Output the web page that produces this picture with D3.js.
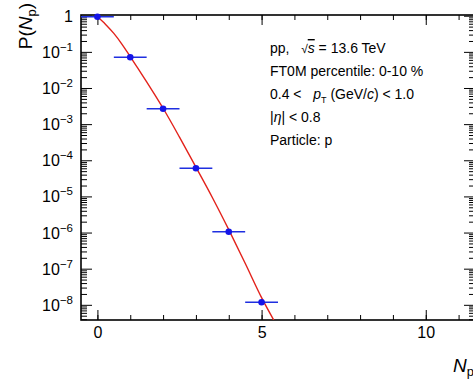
<!DOCTYPE html>
<html>
<head>
<meta charset="utf-8">
<script src="https://cdn.jsdelivr.net/npm/d3@7"></script>
<style>
  body { margin: 0; background: #fff; }
  svg { font-family: "Liberation Sans", Arial, sans-serif; }
</style>
</head>
<body>
<svg id="chart"></svg>
<script>
// data points (N_p, P(N_p))
const nValues = [0, 1, 2, 3, 4, 5];
const probValues = [0.94, 0.071, 2.67e-3, 6.0e-5, 1.05e-6, 1.18e-8];
const xErr = [0.5, 0.5, 0.5, 0.5, 0.5, 0.5];

// fit curve
const fitX = [0, 0.25, 0.5, 0.75, 1.0, 1.25, 1.5, 1.75, 2.0, 2.5, 3.0, 3.5, 4.0, 4.5, 5.0, 5.4];
const fitY = [0.933, 0.575, 0.324, 0.162, 0.0741, 0.0331, 0.0148, 6.46e-3, 2.75e-3,
  4.37e-4, 6.46e-5, 9.33e-6, 1.20e-6, 1.41e-7, 1.58e-8, 3.39e-9];

const xMajorTicks = [0, 5, 10];
const xMinorTicks = [0, 1, 2, 3, 4, 5, 6, 7, 8, 9, 10, 11];
const yDecades = [0, -1, -2, -3, -4, -5, -6, -7, -8];

// Set the size
let width = 473;
let height = 381;
let pLeft = 81, pTop = 15, pRight = 475, pBottom = 320;

let svg = d3.select("#chart").attr("width", width).attr("height", height);

let x = d3.scaleLinear().domain([-0.5, 11.5]).range([pLeft, pRight]);
let y = d3.scaleLog().domain([Math.pow(10, -8.42), Math.pow(10, 0.02)]).range([pBottom, pTop]);

// minor log ticks
let yMinor = [];
yDecades.forEach((e) => {
  for (let k = 2; k <= 9; k++) {
    let v = k * Math.pow(10, e - 1);
    if (v >= y.domain()[0]) yMinor.push(v);
  }
});
let yMajor = yDecades.map((e) => Math.pow(10, e));

// clip
svg.append("clipPath").attr("id", "clip")
  .append("rect").attr("x", pLeft).attr("y", pTop)
  .attr("width", pRight - pLeft).attr("height", pBottom - pTop);

// Axes
function styleAxis(g) {
  g.select(".domain").remove();
  g.selectAll(".tick line").attr("stroke", "#000").attr("stroke-width", 1);
}

svg.append("g").attr("transform", "translate(0," + pBottom + ")")
  .call(d3.axisBottom(x).tickValues(xMinorTicks).tickSize(-5).tickFormat(""))
  .call(styleAxis);
svg.append("g").attr("transform", "translate(0," + pBottom + ")")
  .call(d3.axisBottom(x).tickValues(xMajorTicks).tickSize(-10).tickPadding(6).tickFormat(d3.format("d")))
  .call(styleAxis)
  .call((g) => g.selectAll("text").attr("font-size", 16).attr("fill", "#000")
    .attr("font-family", "Liberation Sans, Arial, sans-serif").attr("dy", "0.75em"));

svg.append("g").attr("transform", "translate(0," + pTop + ")")
  .call(d3.axisTop(x).tickValues(xMinorTicks).tickSize(-5).tickFormat(""))
  .call(styleAxis);
svg.append("g").attr("transform", "translate(0," + pTop + ")")
  .call(d3.axisTop(x).tickValues(xMajorTicks).tickSize(-10).tickFormat(""))
  .call(styleAxis);

svg.append("g").attr("transform", "translate(" + pLeft + ",0)")
  .call(d3.axisLeft(y).tickValues(yMinor).tickSize(-6).tickFormat(""))
  .call(styleAxis);
svg.append("g").attr("transform", "translate(" + pLeft + ",0)")
  .call(d3.axisLeft(y).tickValues(yMajor).tickSize(-11).tickFormat(""))
  .call(styleAxis);

svg.append("g").attr("transform", "translate(" + pRight + ",0)")
  .call(d3.axisRight(y).tickValues(yMinor).tickSize(-6).tickFormat(""))
  .call(styleAxis);
svg.append("g").attr("transform", "translate(" + pRight + ",0)")
  .call(d3.axisRight(y).tickValues(yMajor).tickSize(-11).tickFormat(""))
  .call(styleAxis);

// y tick labels with superscripts
yDecades.forEach((e) => {
  let t = svg.append("text")
    .attr("x", pLeft - 8)
    .attr("y", y(Math.pow(10, e)) + 6)
    .attr("text-anchor", "end")
    .attr("font-size", 16)
    .attr("fill", "#000");
  if (e === 0) {
    t.text("1");
  } else {
    t.append("tspan").text("10");
    t.append("tspan").attr("font-size", 11.5).attr("dy", -7).text("\u2212" + (-e));
  }
});

// frame
svg.append("rect").attr("x", pLeft).attr("y", pTop)
  .attr("width", pRight - pLeft).attr("height", pBottom - pTop)
  .attr("fill", "none").attr("stroke", "#000").attr("stroke-width", 1.6);

// fit curve
let line = d3.line().x((d, i) => x(fitX[i])).y((d, i) => y(fitY[i])).curve(d3.curveMonotoneX);
svg.append("path").datum(fitX)
  .attr("clip-path", "url(#clip)")
  .attr("d", line)
  .attr("fill", "none").attr("stroke", "#e3221b").attr("stroke-width", 1.4);

// error bars
let pts = svg.append("g");
nValues.forEach((n, i) => {
  pts.append("line")
    .attr("x1", x(n - xErr[i])).attr("x2", x(n + xErr[i]))
    .attr("y1", y(probValues[i])).attr("y2", y(probValues[i]))
    .attr("stroke", "#1f2fe0").attr("stroke-width", 1.5);
  pts.append("circle")
    .attr("cx", x(n)).attr("cy", y(probValues[i])).attr("r", 3.3)
    .attr("fill", "#1515e8");
});

// axis titles
svg.append("text")
  .attr("transform", "translate(32,3) rotate(-90)")
  .attr("text-anchor", "end")
  .attr("font-size", 19)
  .attr("fill", "#000")
  .call((t) => {
    t.append("tspan").text("P(");
    t.append("tspan").attr("font-style", "italic").text("N");
    t.append("tspan").attr("font-size", 13).attr("dy", 4).text("p");
    t.append("tspan").attr("dy", -4).text(")");
  });

svg.append("text")
  .attr("x", 474).attr("y", 372)
  .attr("text-anchor", "end")
  .attr("font-size", 19)
  .attr("fill", "#000")
  .call((t) => {
    t.append("tspan").attr("font-style", "italic").text("N");
    t.append("tspan").attr("font-size", 13).attr("dy", 4).text("p");
  });

// legend text
let lx = 270, fs = 14;
let l1 = svg.append("text").attr("x", lx).attr("y", 53).attr("font-size", fs);
l1.append("tspan").text("pp,\u00A0\u00A0\u00A0");
l1.append("tspan").attr("font-size", 12).text("\u221A");
l1.append("tspan").attr("font-style", "italic").attr("text-decoration", "overline").text("s");
l1.append("tspan").text(" = 13.6 TeV");

svg.append("text").attr("x", lx).attr("y", 76).attr("font-size", fs).text("FT0M percentile: 0-10 %");

let l3 = svg.append("text").attr("x", lx).attr("y", 99).attr("font-size", fs);
l3.append("tspan").text("0.4 <\u00A0\u00A0\u00A0");
l3.append("tspan").attr("font-style", "italic").text("p");
l3.append("tspan").attr("font-size", 9).attr("dy", 4).text("T");
l3.append("tspan").attr("dy", -4).text(" (GeV/");
l3.append("tspan").attr("font-style", "italic").text("c");
l3.append("tspan").text(") < 1.0");

let l4 = svg.append("text").attr("x", lx).attr("y", 122).attr("font-size", fs);
l4.append("tspan").text("|");
l4.append("tspan").attr("font-style", "italic").text("\u03B7");
l4.append("tspan").text("| < 0.8");

svg.append("text").attr("x", lx).attr("y", 145).attr("font-size", fs).text("Particle: p");
</script>
</body>
</html>
